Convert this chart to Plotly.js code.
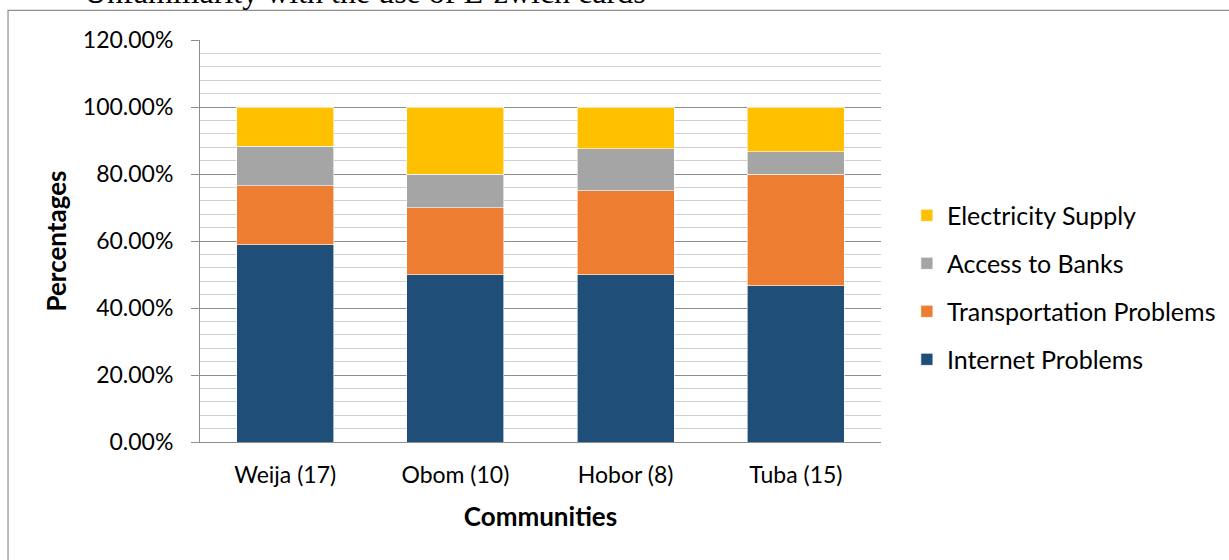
<!DOCTYPE html>
<html>
<head>
<meta charset="utf-8">
<script src="https://cdn.plot.ly/plotly-3.0.1.min.js"></script>
<style>html,body{margin:0;padding:0;background:#fff;}#chart{width:1229px;height:560px;}</style>
</head>
<body>
<div id="chart"></div>
<script>
const communities = ["Weija (17)", "Obom (10)", "Hobor (8)", "Tuba (15)"];
const internetProblems = [0.5882, 0.5000, 0.5000, 0.4667];
const transportationProblems = [0.1765, 0.2000, 0.2500, 0.3333];
const accessToBanks = [0.1176, 0.1000, 0.1250, 0.0667];
const electricitySupply = [0.1176, 0.2000, 0.1250, 0.1333];
const seriesNames = ["Internet Problems", "Transportation Problems", "Access to Banks", "Electricity Supply"];
const seriesColors = ["#1F4E79", "#ED7D31", "#A5A5A5", "#FFC000"];
const chartTitle = "Unfamiliarity with the use of E-zwich cards";

const FONT = "Lato, Carlito, Calibri, sans-serif";
const values = [internetProblems, transportationProblems, accessToBanks, electricitySupply];
const traces = values.map((v, i) => ({
  type: "bar",
  name: seriesNames[i],
  x: communities,
  y: v,
  legendgroup: "g" + i,
  legendrank: 10 - i,
  marker: {color: seriesColors[i], line: {color: "#ffffff", width: 0.6}},
  hoverinfo: "x+y+name"
}));

const layout = {
  width: 1229, height: 560,
  margin: {l: 200, r: 348, t: 40, b: 118, pad: 0, autoexpand: false},
  paper_bgcolor: "#ffffff", plot_bgcolor: "#ffffff",
  barmode: "stack",
  bargap: 0.43,
  font: {family: FONT, size: 23, color: "#000000"},
  xaxis: {
    type: "category",
    automargin: false,
    showline: true, linecolor: "#8e8e8e", linewidth: 1,
    ticks: "", showgrid: false, zeroline: false,
    tickfont: {family: FONT, size: 23, color: "#000000"},
    ticklabelstandoff: 12,
    title: {text: "<b>Communities</b>", font: {family: FONT, size: 26, color: "#000000"}, standoff: 21}
  },
  yaxis: {
    automargin: false,
    range: [0, 1.2], dtick: 0.2, tick0: 0,
    tickformat: ".2%",
    showline: true, linecolor: "#8e8e8e", linewidth: 1,
    ticks: "outside", ticklen: 8, tickcolor: "#8e8e8e", tickwidth: 1,
    ticklabelstandoff: 13,
    showgrid: true, gridcolor: "#8e8e8e", gridwidth: 1,
    zeroline: false,
    minor: {dtick: 0.04, showgrid: true, gridcolor: "#d0d0d0", gridwidth: 1, ticks: ""},
    tickfont: {family: FONT, size: 23, color: "#000000"},
    title: {text: "<b>Percentages</b>", font: {family: FONT, size: 26, color: "#000000"}, standoff: 8}
  },
  legend: {
    x: 1.038, xanchor: "left",
    y: 0.6204, yanchor: "top",
    traceorder: "grouped",
    tracegroupgap: 12.5,
    font: {family: FONT, size: 25, color: "#000000"},
    bgcolor: "rgba(0,0,0,0)"
  },
  showlegend: true,
  annotations: [{
    text: chartTitle,
    xref: "paper", yref: "paper",
    x: -0.1733, y: 1.1188,
    xanchor: "left", yanchor: "middle",
    showarrow: false,
    font: {family: "Liberation Serif, Times New Roman, serif", size: 32, color: "#000000"}
  }],
  shapes: [{
    type: "rect", xref: "paper", yref: "paper",
    x0: -0.2819, x1: 2, y0: -1, y1: 1.0735,
    line: {color: "#8e8e8e", width: 1.2},
    fillcolor: "rgba(0,0,0,0)",
    layer: "below"
  }]
};

Plotly.newPlot("chart", traces, layout, {displayModeBar: false, staticPlot: true});
</script>
</body>
</html>
